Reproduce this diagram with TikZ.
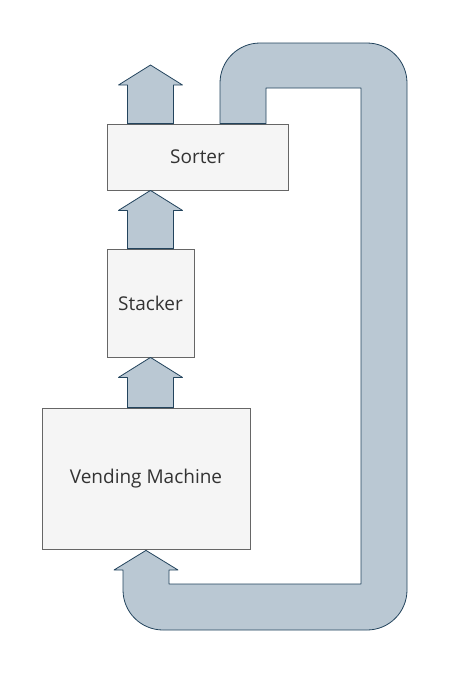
\documentclass[tikz,border=0pt]{standalone}
\usepackage{fontspec}
\setmainfont{Open Sans}
\usetikzlibrary{calc}

\definecolor{boxfill}{HTML}{F5F5F5}
\definecolor{boxline}{HTML}{666666}
\definecolor{flowfill}{HTML}{BAC8D3}
\definecolor{flowline}{HTML}{23445D}
\tikzset{
    box/.style={draw=boxline, fill=boxfill, line width=0.8pt, text=black!80, font=\fontsize{19}{22}\selectfont, inner sep=0pt},
    flow/.style={draw=flowline, fill=flowfill, line width=0.8pt, line join=round}
}

\begin{document}
\begin{tikzpicture}[x=1pt, y=-1pt]
        \useasboundingbox (0,0) rectangle (450,673);
        \foreach \n/\t/\x/\y/\w/\h in {srt/Sorter/197.5/157/181/66, stk/Stacker/150.5/303/87/108, vm/Vending Machine/146/478.5/208/141} {
            \node[box, minimum width=\w pt, minimum height=\h pt] (\n) at (\x, \y) {\t};
        }
        \coordinate (out) at (150.5, 65);
        % up arrows between the boxes
        \foreach \lo/\hi in {vm.north/stk.south, stk.north/srt.south, srt.north/out} {
            \draw[flow] let \p1=(\lo -| out), \p2=(\hi) in
                (\x1-23pt, \y1) -- (\x1-23pt, \y2-20pt) -- (\x1-32pt, \y2-20pt) -- (\x1, \y2)
                -- (\x1+32pt, \y2-20pt) -- (\x1+23pt, \y2-20pt) -- (\x1+23pt, \y1) -- cycle;
        }
        % return loop from sorter back into the vending machine
        \coordinate (back) at ($(vm.south)+(0, 1)$);
        \coordinate (lft) at (220, 0);
        \coordinate (rgt) at (266, 0);
        \draw[flow] (169, 570) -- (169, 584) -- (361, 584) -- (361, 88) -- (266, 88) -- (srt.north -| rgt)
            -- (srt.north -| lft) [rounded corners=40pt] -- (220, 43) -- (407, 43) -- (407, 630) -- (123, 630)
            [sharp corners] -- (123, 570) -- (114, 570) -- (back) -- (178, 570) -- cycle;
\end{tikzpicture}
\end{document}
